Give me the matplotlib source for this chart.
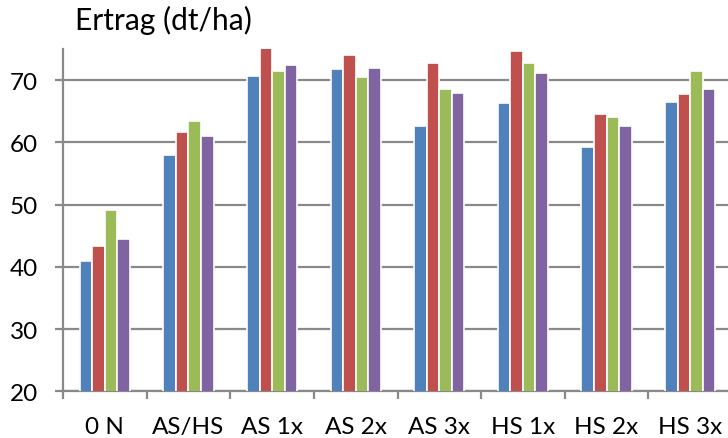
import matplotlib.pyplot as plt
import numpy as np

plt.rcParams['font.family'] = ['Lato', 'DejaVu Sans']

categories = ['0 N', 'AS/HS', 'AS 1x', 'AS 2x', 'AS 3x', 'HS 1x', 'HS 2x', 'HS 3x']

# four series per category (blue, red, green, purple)
serie_1 = [40.9, 58.0, 70.7, 71.8, 62.6, 66.4, 59.3, 66.5]
serie_2 = [43.4, 61.7, 75.2, 74.0, 72.8, 74.7, 64.6, 67.8]
serie_3 = [49.2, 63.5, 71.4, 70.5, 68.5, 72.7, 64.1, 71.5]
serie_4 = [44.5, 61.0, 72.4, 72.0, 68.0, 71.2, 62.6, 68.6]

series = [serie_1, serie_2, serie_3, serie_4]
colors = ['#4F81BD', '#C0504D', '#9BBB59', '#8064A2']

grey = '#898989'

fig = plt.figure(figsize=(7.28, 4.39), dpi=100)
ax = fig.add_axes([63 / 728, 46.7 / 439, 669 / 728, 342.3 / 439])

x = np.arange(len(categories))
bar_w = 0.15
for i, (vals, col) in enumerate(zip(series, colors)):
    offset = (i - 1.5) * bar_w
    ax.bar(x + offset, vals, width=bar_w, color=col, edgecolor='white',
           linewidth=1.2, zorder=3)

ax.set_xlim(-0.5, len(categories) - 0.5)
ax.set_ylim(20, 75)
ax.set_yticks(np.arange(20, 71, 10))
ax.yaxis.grid(True, color=grey, linewidth=1.6, zorder=0)

ax.set_xticks(x)
ax.set_xticklabels(categories)
ax.set_xticks(np.arange(-0.5, len(categories) + 0.5, 1), minor=True)
ax.tick_params(axis='x', which='major', length=0, pad=18, labelsize=17.5)
ax.tick_params(axis='x', which='minor', length=6, width=1.6, color=grey,
               direction='out')
ax.tick_params(axis='y', length=6, width=1.6, color=grey, pad=12,
               labelsize=17.5)

for side in ['top', 'right']:
    ax.spines[side].set_visible(False)
for side in ['left', 'bottom']:
    ax.spines[side].set_color(grey)
    ax.spines[side].set_linewidth(1.6)

fig.text(75 / 728, 1 - 20 / 439, 'Ertrag (dt/ha)', fontsize=21.5,
         ha='left', va='center')

fig.savefig('out.png', dpi=100)
